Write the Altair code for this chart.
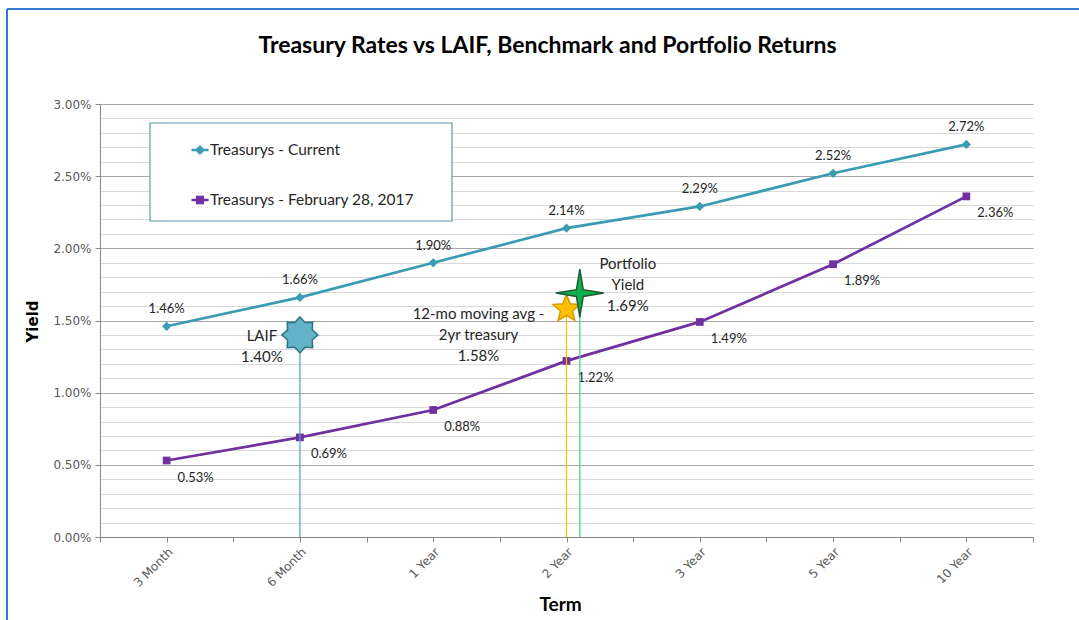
import json
import math
import altair as alt
import pandas as pd

# ---------------- data ----------------
terms = ["3 Month", "6 Month", "1 Year", "2 Year", "3 Year", "5 Year", "10 Year"]
term_pos = [0, 1, 2, 3, 4, 5, 6]
current_yield = [1.46, 1.66, 1.90, 2.14, 2.29, 2.52, 2.72]
feb_yield = [0.53, 0.69, 0.88, 1.22, 1.49, 1.89, 2.36]
series_names = ["Treasurys - Current", "Treasurys - February 28, 2017"]

bench_names = ["LAIF", "12-mo moving avg - 2yr treasury", "Portfolio Yield"]
bench_labels = ["LAIF\n1.40%", "12-mo moving avg -\n2yr treasury\n1.58%", "Portfolio\nYield\n1.69%"]
bench_pos = [1.0, 3.0, 3.1]
bench_yield = [1.40, 1.58, 1.69]

rows = []
for p, t, v in zip(term_pos, terms, current_yield):
    rows.append({"pos": p, "term": t, "series": series_names[0], "yield": v / 100})
for p, t, v in zip(term_pos, terms, feb_yield):
    rows.append({"pos": p, "term": t, "series": series_names[1], "yield": v / 100})
df = pd.DataFrame(rows)

bench_df = pd.DataFrame({
    "name": bench_names,
    "label": bench_labels,
    "pos": bench_pos,
    "yield": [v / 100 for v in bench_yield],
})

# ---------------- styles ----------------
TEAL = "#3a9cb3"
PURPLE = "#7030a0"


def star_path(n, r_in, r_out=1.0):
    pts = []
    for k in range(2 * n):
        ang = -math.pi / 2 + k * math.pi / n
        r = r_out if k % 2 == 0 else r_in
        pts.append(f"{r * math.cos(ang):.3f},{r * math.sin(ang):.3f}")
    return "M" + "L".join(pts) + "Z"


bench_style = [
    dict(shape=star_path(8, 0.74), fill="#62b3c7", stroke="#2b7486", size=1300,
         rule="#4bacc6", dx=-38, dy=1),
    dict(shape=star_path(5, 0.45), fill="#ffc000", stroke="#d89a00", size=800,
         rule="#ffc000", dx=-88, dy=5),
    dict(shape=star_path(4, 0.2), fill="#0db04b", stroke="#1d5a33", size=2300,
         rule="#4cd38f", dx=48, dy=-29),
]

MAJ = "abs(datum.value*200 - round(datum.value*200)) < 0.001"
y_vals = [round(i * 0.001, 3) for i in range(31)]
x_vals = [i * 0.5 - 0.5 for i in range(15)]

x_axis = alt.Axis(
    values=x_vals,
    labelExpr=f"datum.value % 1 === 0 ? {json.dumps(terms)}[datum.value] : ''",
    labelAngle=-45, labelAlign="right", labelBaseline="top",
    labelFont="DejaVu Sans", labelFontSize=12, labelColor="#595959",
    labelPadding=4, labelOverlap=False, labelFlush=False,
    tickColor="#868686", tickSize=5, domainColor="#868686", grid=False,
    titleFont="Lato", titleFontSize=19, titleFontWeight="bold", titleColor="#000000",
    titleX=460, titleY=67, titleAlign="center", titleBaseline="middle",
)
y_axis = alt.Axis(
    values=y_vals,
    labelExpr=f"{MAJ} ? format(datum.value, '.2%') : ''",
    gridColor={"condition": {"test": MAJ, "value": "#a6a6a6"}, "value": "#d9d9d9"},
    tickColor={"condition": {"test": MAJ, "value": "#868686"}, "value": "transparent"},
    tickSize=5, domainColor="#868686",
    labelFont="DejaVu Sans", labelFontSize=12, labelColor="#595959",
    labelPadding=4, labelOverlap=False, labelFlush=False,
    titleFont="DejaVu Sans", titleFontSize=15, titleFontWeight="bold", titleColor="#000000",
    titleX=-68, titleY=217, titleAngle=270, titleAlign="center", titleBaseline="middle",
)

X = alt.X("pos:Q", scale=alt.Scale(domain=[-0.5, 6.5], nice=False, zero=False), axis=x_axis, title="Term")
Y = alt.Y("yield:Q", scale=alt.Scale(domain=[0, 0.03], nice=False, zero=True), axis=y_axis, title="Yield")

color_scale = alt.Scale(domain=series_names, range=[TEAL, PURPLE])
series_colors = [TEAL, PURPLE]
series_shapes = ["diamond", "square"]
series_sizes = [85, 60]

# legend keys: short line with a marker drawn by strokes
DIAMOND_KEY = "M-1,0H1M0,-0.38L0.38,0L0,0.38L-0.38,0ZM0,-0.2V0.2"
SQUARE_KEY = "M-1,0H1M-0.34,-0.34H0.34V0.34H-0.34ZM-0.15,-0.15H0.15V0.15H-0.15Z"

legend = alt.Legend(
    title=None, orient="none", legendX=90, legendY=36, direction="vertical",
    labelFont="Lato", labelFontSize=15.5, labelColor="#262626", labelOffset=0,
    labelLimit=400, rowPadding=31, padding=0, symbolSize=289, symbolStrokeWidth=2.5,
    zindex=2,
)

base = alt.Chart(df)

# legend frame and outer frame (decoration)
one = pd.DataFrame({"k": [0]})
legend_box = alt.Chart(one).mark_rect(fill="white", stroke="#5f98a8", strokeWidth=1.2).encode(
    x=alt.value(50), x2=alt.value(352), y=alt.value(19), y2=alt.value(117))
frame_top = alt.Chart(one).mark_rule(color="#2e7bcf", strokeWidth=2).encode(
    x=alt.value(-93), x2=alt.value(979), y=alt.value(-95))
frame_left = alt.Chart(one).mark_rule(color="#2e7bcf", strokeWidth=2).encode(
    x=alt.value(-93), y=alt.value(-95), y2=alt.value(516))

series_layers = []
for s, c, shp, sz in zip(series_names, series_colors, series_shapes, series_sizes):
    sub = base.transform_filter(alt.datum.series == s)
    series_layers.append(sub.mark_line(strokeWidth=2.75, color=c).encode(x=X, y=Y))
for s, c, shp, sz in zip(series_names, series_colors, series_shapes, series_sizes):
    sub = base.transform_filter(alt.datum.series == s)
    series_layers.append(sub.mark_point(filled=True, opacity=1, shape=shp, size=sz, color=c).encode(x=X, y=Y))

# legend-only layer (no rows drawn), provides the legend entries
legend_layer = base.transform_filter("false").mark_point(filled=False, strokeWidth=2.5, opacity=1).encode(
    x=X, y=Y,
    color=alt.Color("series:N", scale=color_scale, legend=legend),
    shape=alt.Shape("series:N", scale=alt.Scale(domain=series_names, range=[DIAMOND_KEY, SQUARE_KEY]),
                    legend=legend),
)

cur_text = base.transform_filter(alt.datum.series == series_names[0]).mark_text(
    dy=-17, font="Lato", fontSize=13, color="#262626").encode(
    x=X, y=Y, text=alt.Text("yield:Q", format=".2%"))
feb_text = base.transform_filter(alt.datum.series == series_names[1]).mark_text(
    dx=29, dy=17, font="Lato", fontSize=13, color="#262626").encode(
    x=X, y=Y, text=alt.Text("yield:Q", format=".2%"))

bench_layers = []
for name, st in zip(bench_names, bench_style):
    sub = alt.Chart(bench_df).transform_filter(alt.datum.name == name)
    bench_layers.append(sub.mark_rule(color=st["rule"], strokeWidth=1.3).encode(x=X, y=Y, y2=alt.datum(0)))
for name, st in zip(bench_names, bench_style):
    sub = alt.Chart(bench_df).transform_filter(alt.datum.name == name)
    bench_layers.append(sub.mark_point(shape=st["shape"], filled=True, fill=st["fill"], stroke=st["stroke"],
                                       strokeWidth=1.5, size=st["size"], opacity=1).encode(x=X, y=Y))
    bench_layers.append(sub.mark_text(lineBreak="\n", lineHeight=21, dx=st["dx"], dy=st["dy"],
                                      font="Lato", fontSize=15, color="#262626",
                                      align="center", baseline="middle").encode(x=X, y=Y, text="label:N"))

chart = alt.layer(
    frame_top, frame_left, *series_layers, cur_text, feb_text, *bench_layers, legend_box, legend_layer
).properties(
    width=933, height=433,
    padding={"left": 100, "top": 104, "right": 46, "bottom": 83},
    autosize=alt.AutoSizeParams(type="none"),
    title=alt.Title("Treasury Rates vs LAIF, Benchmark and Portfolio  Returns",
                    font="Lato", fontSize=23, fontWeight="bold", color="#000000",
                    anchor="middle", dx=-19, offset=-50),
    background="white",
).configure_view(stroke="transparent")

chart.save("out.html", embed_options={"renderer": "svg", "actions": False})
